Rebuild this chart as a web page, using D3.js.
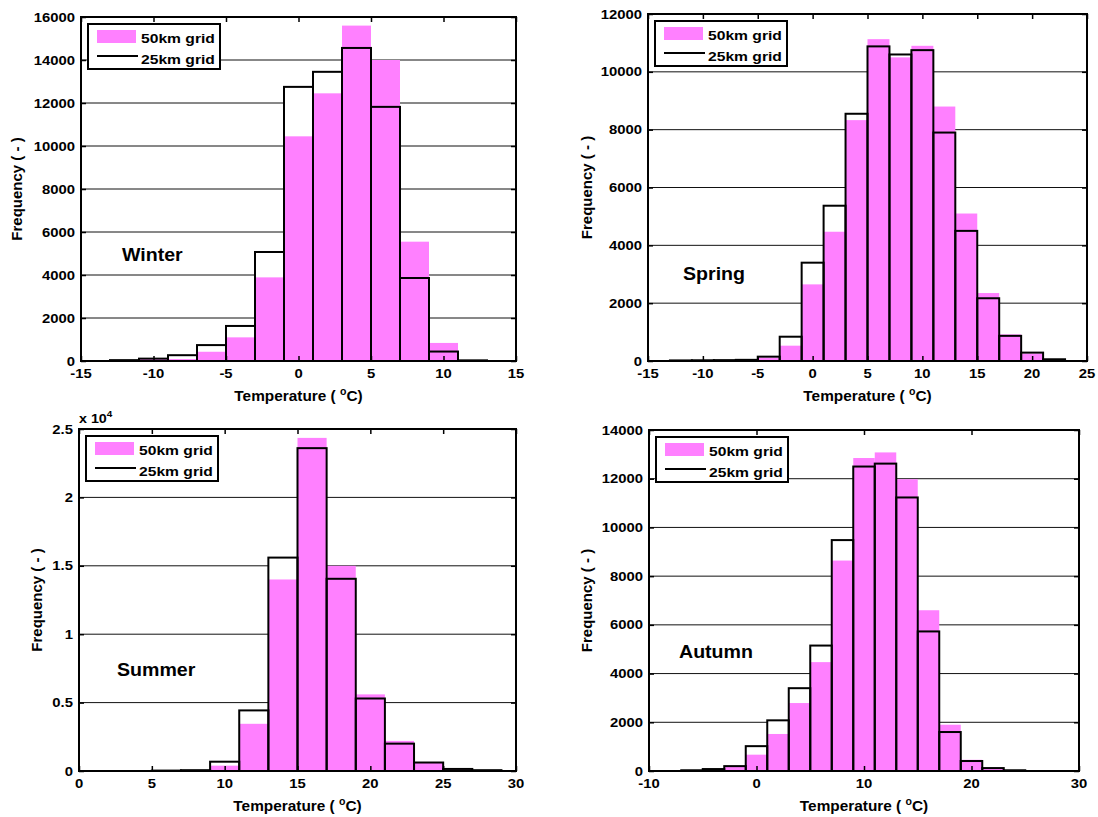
<!DOCTYPE html>
<html>
<head>
<meta charset="utf-8">
<script src="https://cdn.jsdelivr.net/npm/d3@7"></script>
<style>
  html, body { margin: 0; padding: 0; background: #fff; }
  svg text { font-family: "Liberation Sans", Arial, Helvetica, sans-serif; font-weight: bold; fill: #000; }
</style>
</head>
<body>
<svg id="chart" width="1098" height="817"></svg>
<script>
// ---------------- data ----------------
const legendLabels = ["50km grid", "25km grid"];

const winterCenters = [-12, -10, -8, -6, -4, -2, 0, 2, 4, 6, 8, 10, 12];
const winter50 = [15, 90, 90, 430, 1100, 3890, 10450, 12450, 15600, 14000, 5550, 840, 40];
const winter25 = [40, 110, 270, 740, 1630, 5070, 12750, 13450, 14560, 11820, 3860, 440, 30];
const winterXTicks = [-15, -10, -5, 0, 5, 10, 15];
const winterYTicks = [0, 2000, 4000, 6000, 8000, 10000, 12000, 14000, 16000];

const springCenters = [-12, -10, -8, -6, -4, -2, 0, 2, 4, 6, 8, 10, 12, 14, 16, 18, 20, 22];
const spring50 = [10, 15, 20, 30, 120, 530, 2650, 4470, 8330, 11130, 10500, 10900, 8800, 5100, 2350, 920, 260, 40];
const spring25 = [20, 25, 30, 40, 150, 840, 3400, 5370, 8550, 10880, 10600, 10750, 7900, 4500, 2170, 870, 290, 60];
const springXTicks = [-15, -10, -5, 0, 5, 10, 15, 20, 25];
const springYTicks = [0, 2000, 4000, 6000, 8000, 10000, 12000];

const summerCenters = [6, 8, 10, 12, 14, 16, 18, 20, 22, 24, 26, 28];
const summer50 = [20, 40, 390, 3450, 14000, 24350, 15000, 5600, 2200, 600, 120, 40];
const summer25 = [30, 60, 680, 4430, 15600, 23600, 14050, 5300, 2000, 620, 150, 60];
const summerXTicks = [0, 5, 10, 15, 20, 25, 30];
const summerYTicks = [0, 5000, 10000, 15000, 20000, 25000];
const summerYTickLabels = ["0", "0.5", "1", "1.5", "2", "2.5"];

const autumnCenters = [-6, -4, -2, 0, 2, 4, 6, 8, 10, 12, 14, 16, 18, 20, 22, 24];
const autumn50 = [15, 50, 170, 670, 1520, 2790, 4470, 8640, 12850, 13080, 11980, 6600, 1900, 460, 100, 20];
const autumn25 = [30, 80, 200, 1020, 2080, 3400, 5150, 9480, 12500, 12620, 11230, 5730, 1600, 410, 120, 30];
const autumnXTicks = [-10, 0, 10, 20, 30];
const autumnYTicks = [0, 2000, 4000, 6000, 8000, 10000, 12000, 14000];

const binWidth = 2;

// ---------------- drawing ----------------
const svg = d3.select("#chart");
const PINK = "#ff80ff";

function addText(g, x, y, str, opt) {
  const o = Object.assign({ size: 13, anchor: "start", sx: 1, rotate: 0 }, opt || {});
  const t = g.append("text")
    .attr("transform", `translate(${x},${y}) rotate(${o.rotate}) scale(${o.sx},1)`)
    .attr("text-anchor", o.anchor)
    .style("font-size", o.size + "px");
  if (str !== null) t.text(str);
  return t;
}

function drawPanel(cfg) {
  const { left, right, top, bottom } = cfg.box;
  const x = d3.scaleLinear().domain([cfg.xTicks[0], cfg.xTicks[cfg.xTicks.length - 1]]).range([left, right]);
  const yMax = cfg.yTicks[cfg.yTicks.length - 1];
  const y = d3.scaleLinear().domain([0, yMax]).range([bottom, top]);
  const g = svg.append("g");

  // grid lines
  g.selectAll("line.grid").data(cfg.yTicks.filter(v => v > 0 && v < yMax)).enter()
    .append("line")
    .attr("x1", left).attr("x2", right)
    .attr("y1", d => y(d)).attr("y2", d => y(d))
    .attr("stroke", "#111").attr("stroke-width", 1);

  const bins25 = cfg.centers.map((c, i) => ({ c, v: cfg.v25[i] }));
  const bins50 = cfg.centers.map((c, i) => ({ c, v: cfg.v50[i] }));

  // white backing of 25km bars (hides grid)
  g.selectAll("rect.back").data(bins25).enter().append("rect")
    .attr("x", d => x(d.c - binWidth / 2)).attr("width", d => x(d.c + binWidth / 2) - x(d.c - binWidth / 2))
    .attr("y", d => y(d.v)).attr("height", d => y(0) - y(d.v))
    .attr("fill", "#fff");

  // pink 50km bars
  g.selectAll("rect.pink").data(bins50).enter().append("rect")
    .attr("x", d => x(d.c - binWidth / 2)).attr("width", d => x(d.c + binWidth / 2) - x(d.c - binWidth / 2))
    .attr("y", d => y(d.v)).attr("height", d => y(0) - y(d.v))
    .attr("fill", PINK);

  // black 25km outlines
  g.selectAll("rect.outline").data(bins25).enter().append("rect")
    .attr("x", d => x(d.c - binWidth / 2)).attr("width", d => x(d.c + binWidth / 2) - x(d.c - binWidth / 2))
    .attr("y", d => y(d.v)).attr("height", d => y(0) - y(d.v))
    .attr("fill", "none").attr("stroke", "#000").attr("stroke-width", 2);

  // inward ticks on all four sides
  const tickLen = 5;
  const axB = g.append("g").attr("transform", `translate(0,${bottom})`)
    .call(d3.axisBottom(x).tickValues(cfg.xTicks).tickSize(-tickLen).tickFormat(""));
  const axT = g.append("g").attr("transform", `translate(0,${top})`)
    .call(d3.axisTop(x).tickValues(cfg.xTicks).tickSize(-tickLen).tickFormat(""));
  const axL = g.append("g").attr("transform", `translate(${left},0)`)
    .call(d3.axisLeft(y).tickValues(cfg.yTicks).tickSize(-tickLen).tickFormat(""));
  const axR = g.append("g").attr("transform", `translate(${right},0)`)
    .call(d3.axisRight(y).tickValues(cfg.yTicks).tickSize(-tickLen).tickFormat(""));
  [axB, axT, axL, axR].forEach(a => {
    a.select(".domain").remove();
    a.selectAll(".tick line").attr("stroke", "#000").attr("stroke-width", 1.5);
  });

  // frame
  g.append("rect").attr("x", left).attr("y", top)
    .attr("width", right - left).attr("height", bottom - top)
    .attr("fill", "none").attr("stroke", "#000").attr("stroke-width", 2);

  // tick labels
  cfg.xTicks.forEach(v => addText(g, x(v), bottom + 17, String(v), { size: 13.5, anchor: "middle", sx: 1.1 }));
  cfg.yTicks.forEach((v, i) => addText(g, left - 6, y(v) + 4.5,
    cfg.yTickLabels ? cfg.yTickLabels[i] : String(v), { size: 13.5, anchor: "end", sx: 1.1 }));

  // axis labels
  const xl = addText(g, (left + right) / 2, bottom + 40, null, { size: 14.5, anchor: "middle", sx: 1.06 });
  xl.append("tspan").text("Temperature ( ");
  xl.append("tspan").attr("dy", -6).style("font-size", "10px").text("o");
  xl.append("tspan").attr("dy", 6).text("C)");
  addText(g, cfg.yLabelX + 5, (top + bottom) / 2, "Frequency ( - )", { size: 15, anchor: "middle", rotate: -90 });

  if (cfg.multiplier) {
    const m = addText(g, left, top - 6, null, { size: 13, anchor: "start", sx: 1.1 });
    m.append("tspan").text("x 10");
    m.append("tspan").attr("dy", -6).style("font-size", "9px").text(cfg.multiplier);
  }

  // season label
  addText(g, cfg.season.x, cfg.season.y, cfg.season.text, { size: 17.5, anchor: "start", sx: 1.12 });

  // legend
  const lx = left + 7, ly = top + 7;
  const lg = g.append("g");
  lg.append("rect").attr("x", lx).attr("y", ly).attr("width", 132).attr("height", 45)
    .attr("fill", "#fff").attr("stroke", "#000").attr("stroke-width", 2);
  lg.append("rect").attr("x", lx + 9).attr("y", ly + 6).attr("width", 39).attr("height", 13).attr("fill", PINK);
  lg.append("line").attr("x1", lx + 9).attr("x2", lx + 50).attr("y1", ly + 32).attr("y2", ly + 32)
    .attr("stroke", "#000").attr("stroke-width", 2);
  addText(lg, lx + 53, ly + 18.5, legendLabels[0], { size: 13.5, sx: 1.16 });
  addText(lg, lx + 53, ly + 39.5, legendLabels[1], { size: 13.5, sx: 1.16 });
}

drawPanel({
  box: { left: 81, right: 516, top: 17, bottom: 361 },
  centers: winterCenters, v50: winter50, v25: winter25,
  xTicks: winterXTicks, yTicks: winterYTicks,
  yLabelX: 17, season: { text: "Winter", x: 122, y: 261 }
});
drawPanel({
  box: { left: 648, right: 1087, top: 14, bottom: 361 },
  centers: springCenters, v50: spring50, v25: spring25,
  xTicks: springXTicks, yTicks: springYTicks,
  yLabelX: 587, season: { text: "Spring", x: 683, y: 280 }
});
drawPanel({
  box: { left: 79, right: 516, top: 429, bottom: 771 },
  centers: summerCenters, v50: summer50, v25: summer25,
  xTicks: summerXTicks, yTicks: summerYTicks, yTickLabels: summerYTickLabels,
  multiplier: "4",
  yLabelX: 37, season: { text: "Summer", x: 117, y: 676 }
});
drawPanel({
  box: { left: 649, right: 1079, top: 430, bottom: 771 },
  centers: autumnCenters, v50: autumn50, v25: autumn25,
  xTicks: autumnXTicks, yTicks: autumnYTicks,
  yLabelX: 587, season: { text: "Autumn", x: 679, y: 658 }
});
</script>
</body>
</html>
